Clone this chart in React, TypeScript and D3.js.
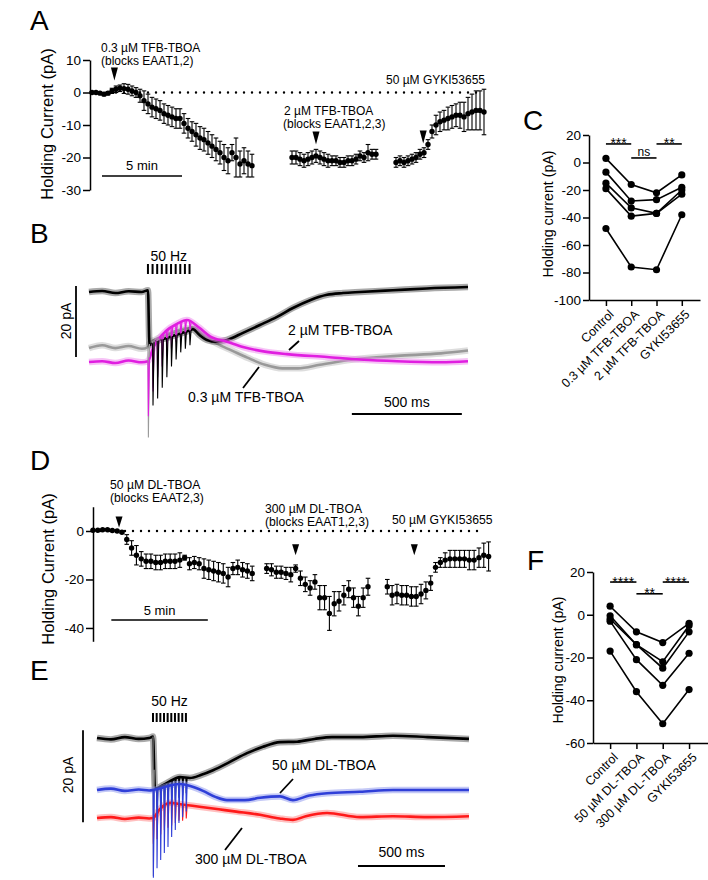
import * as d3 from 'd3';
import React, { useRef, useEffect } from 'react';

const FONT = "'Liberation Sans', Arial, Helvetica, sans-serif";

// ---------- A: holding current, TFB-TBOA (min, pA) ----------
const aTicks = [10, 0, -10, -20, -30];
const aStep = 0.25;
const aSeg1Start = 0;
const aSeg1Mean = [0, 0, -0.2, -0.5, -0.2, 0.5, 1, 1.3, 1.2, 1, 0.5, 0, -1, -2.5, -3.5, -4.5, -5, -5.5, -6.5, -7, -7.5, -8, -8, -9.5, -11, -12, -13, -14, -14.5, -15.5, -16.5, -17.5, -18.5, -20, -21, -18.5, -20, -22, -21, -22, -22.5];
const aSeg1Err = [0.3, 0.3, 0.3, 0.5, 0.5, 0.8, 1, 1, 1.5, 1.5, 1.5, 1.5, 2, 3, 3, 3, 3, 3, 3, 3, 3, 3, 3, 3, 3, 3, 3.5, 3.5, 3.5, 3.5, 3.5, 3.5, 3.5, 4, 4, 2.5, 6, 4, 4, 4, 3.5];
const aSeg2Start = 12.5;
const aSeg2Mean = [-20, -20, -20.5, -21, -20.5, -20, -19.5, -20, -20.5, -21, -21, -21, -21.5, -21.5, -21, -21, -20.5, -19.5, -20, -18.5, -19, -19];
const aSeg2Err = [2, 2, 2, 2, 2, 2, 2, 2, 2, 2, 1.5, 1.5, 1.5, 1.5, 1.5, 1.5, 1.5, 1.5, 1.5, 2.5, 1.5, 1.5];
const aSeg3Start = 19;
const aSeg3Mean = [-21.5, -21, -21.5, -21, -20.5, -20, -19, -18.5, -16, -12, -10, -9, -8.5, -8, -7.5, -7, -7, -7.5, -6.5, -6, -5.5, -5.5, -6];
const aSeg3Err = [1.5, 1.5, 1.5, 1.5, 1.5, 1.5, 1.5, 1.5, 1.5, 2, 3, 3, 3, 3.5, 3.5, 3.5, 4, 4.5, 5, 5.5, 6, 6, 7];
const aArrowT = [1.4, 14, 20.7];
const aArrowV = [7.7, -12, -11.7];

// ---------- B: traces, TFB-TBOA (ms, pA) ----------
const bPulses = [268, 289, 310, 331, 352, 373, 394, 415, 436, 457];
const bBlackT = [0, 60, 120, 180, 240, 268, 275, 300, 350, 400, 450, 473, 500, 536, 580, 627, 700, 777, 855, 927, 1005, 1082, 1155, 1232, 1382, 1536, 1723];
const bBlackV = [0, 0.3, -0.3, 0.2, 0, 0.5, -15, -14, -13, -12, -11, -10.5, -12, -13.5, -14, -13.5, -11.5, -9.3, -7, -4.5, -2.3, -0.8, -0.3, 0, 0.5, 1, 1.4];
const bBlackSpikes = [-41, -32, -30, -27, -24, -21, -19, -17, -16, -15];
const bGrayT = [0, 60, 120, 180, 240, 268, 280, 300, 350, 420, 473, 520, 580, 650, 720, 800, 880, 950, 1050, 1200, 1400, 1600, 1723];
const bGrayV = [-15.8, -15, -15.8, -15.2, -16, -15.5, -14, -13.5, -12, -10.5, -10, -12, -14.5, -16.5, -18.5, -20.5, -21.5, -21.5, -20.5, -19, -18, -17.3, -16.5];
const bGraySpikes = [-41, -27, -24, -21, -18, -16, -14, -13, -12, -11];
const bMagT = [0, 60, 120, 180, 240, 268, 290, 350, 400, 445, 500, 550, 627, 700, 800, 900, 1082, 1232, 1400, 1600, 1723];
const bMagV = [-19.7, -19.5, -20, -19.3, -19.8, -19.5, -16, -11, -9, -7.9, -10, -12.5, -14, -15.5, -16.8, -17.5, -18.3, -19, -19.5, -19.8, -19.5];
const bMagSpikes = [-35, -28, -24, -21, -18, -16, -14, -13, -12, -11];

// ---------- C: paired cells, TFB-TBOA ----------
const cCats = ['Control', '0.3 µM TFB-TBOA', '2 µM TFB-TBOA', 'GYKI53655'];
const cTicks = [20, 0, -20, -40, -60, -80, -100];
const cCell1 = [3, -16, -22, -9];
const cCell2 = [-7, -28, -27, -18];
const cCell3 = [-15, -33, -37, -20];
const cCell4 = [-19, -39, -37, -23];
const cCell5 = [-48, -76, -78, -38];
const cSigFrom = [0, 1, 2];
const cSigTo = [1, 2, 3];
const cSigV = [13.5, 3.3, 13.5];
const cSigText = ['***', 'ns', '**'];

// ---------- D: holding current, DL-TBOA ----------
const dTicks = [0, -20, -40];
const dStep = 0.25;
const dSeg1Start = 0;
const dSeg1Mean = [0.3, 0.3, 0.5, 0.5, 0.2, 0, -0.5, -3.5, -7, -10, -11.5, -12.5, -12.5, -13, -13, -12.5, -12.5, -12.5, -12, -11, -13.5, -13, -13.5, -15.5, -16, -16.5, -17, -17.5, -19, -15.5, -15, -16, -16.5, -17.5];
const dSeg1Err = [0.3, 0.3, 0.3, 0.3, 0.3, 0.3, 0.5, 2, 3, 4, 3, 3, 3, 3, 3, 3, 3, 3, 3, 1, 2.5, 2.5, 2.5, 4, 4, 4, 4, 4, 4, 2.5, 3, 3, 3, 3];
const dSeg2Start = 9;
const dSeg2Mean = [-15.5, -16, -17, -17, -17.5, -18, -15.5, -19.5, -22, -23.5, -21, -27.5, -27.5, -34, -30, -29, -26.5, -24, -27.5, -31, -27.5, -23];
const dSeg2Err = [2, 2.5, 2.5, 2.5, 2.5, 3, 1.5, 3, 3, 3, 3, 5, 5, 7, 5, 4, 4, 3.5, 4, 4, 4, 3.5];
const dSeg3Start = 15.25;
const dSeg3Mean = [-23, -26.5, -26, -26.5, -26.5, -27, -27, -26, -24.5, -21.5, -15, -13, -12, -11.5, -11.5, -11.5, -11.5, -12, -12, -11, -10, -10.5];
const dSeg3Err = [3, 4, 4, 4, 4, 4, 4, 4, 3.5, 3, 2, 2, 3, 3.5, 3.5, 3.5, 3.5, 4, 4, 4, 5, 6];
const dArrowT = [1.35, 10.5, 16.65];
const dArrowV = [6, -5.5, -5.5];

// ---------- E: traces, DL-TBOA ----------
const ePulses = [322, 343, 364, 385, 406, 427, 448, 469, 490, 511];
const eBlackT = [0, 80, 160, 240, 300, 322, 333, 400, 477, 534, 600, 667, 764, 862, 954, 1052, 1150, 1250, 1350, 1511, 1701, 1900, 2138];
const eBlackV = [0, -0.3, 0.2, -0.2, 0, 0.3, -11, -9.8, -8.5, -8.7, -8, -7, -5.2, -3.3, -1.9, -0.9, -0.8, -0.2, 0.2, 0.2, 0.5, 0.2, -0.2];
const eBlackSpikes = [-30, -17, -16, -15, -14.5, -14, -13.5, -13, -12.5, -12];
const eBlueT = [0, 80, 160, 240, 300, 322, 360, 420, 480, 540, 609, 680, 747, 850, 937, 1052, 1126, 1220, 1322, 1511, 1701, 1900, 2138];
const eBlueV = [-11.3, -11, -11.5, -11.2, -11.4, -11.3, -11, -10.3, -10, -10.5, -11.5, -12.8, -13.5, -13.5, -13, -12.7, -13.5, -12.5, -12, -11.7, -11.3, -11.3, -11.3];
const eBlueSpikes = [-30.4, -28.3, -26.5, -25, -23.7, -21.5, -20, -18.5, -17.2, -16];
const eRedT = [0, 80, 160, 240, 300, 322, 360, 420, 500, 600, 700, 800, 937, 1050, 1126, 1200, 1322, 1511, 1701, 1900, 2138];
const eRedV = [-17.4, -17.2, -17.6, -17.3, -17.5, -17.4, -15.5, -14.1, -14.5, -15, -15.5, -16, -16.7, -17.5, -17.8, -17, -16.3, -17.2, -17, -17.2, -17];
const eRedSpikes = [-23, -22, -21, -20, -19.5, -19, -18.5, -18, -18, -17.5];

// ---------- F: paired cells, DL-TBOA ----------
const fCats = ['Control', '50 µM DL-TBOA', '300 µM DL-TBOA', 'GYKI53655'];
const fTicks = [20, 0, -20, -40, -60];
const fCell1 = [4, -8, -13, -4];
const fCell2 = [-0.5, -14, -22, -5];
const fCell3 = [-2, -14, -25, -8];
const fCell4 = [-3, -21, -33, -18];
const fCell5 = [-17, -36, -51, -35];
const fSigFrom = [0, 1, 2];
const fSigTo = [1, 2, 3];
const fSigV = [15.3, 9.8, 15.3];
const fSigText = ['****', '**', '****'];

function App() {
    const ref = useRef(null);

    useEffect(() => {
        draw();
    }, []);

    const draw = () => {
        const svg = d3.select(ref.current);
        svg.selectAll('*').remove();

        const txt = (x, y, s, size, anchor = 'start') =>
            svg.append('text').attr('x', x).attr('y', y).text(s)
                .style('font-family', FONT).style('font-size', size + 'px')
                .attr('text-anchor', anchor).attr('fill', '#000');

        const vtxt = (x, y, s, size) =>
            svg.append('text').attr('transform', 'translate(' + x + ',' + y + ') rotate(-90)')
                .attr('text-anchor', 'middle').text(s)
                .style('font-family', FONT).style('font-size', size + 'px').attr('fill', '#000');

        const yAxis = (y, x, ticks, size) => {
            const a = svg.append('g').attr('transform', 'translate(' + x + ',0)')
                .call(d3.axisLeft(y).tickValues(ticks).tickSize(size).tickPadding(2)
                    .tickSizeOuter(0).tickFormat(d => String(d)));
            a.select('.domain').attr('stroke-width', 1.5).attr('stroke', '#000');
            a.selectAll('.tick line').attr('stroke-width', 1.5).attr('stroke', '#000');
            a.selectAll('text').style('font-family', FONT).style('font-size', '13.5px').attr('fill', '#000');
            return a;
        };

        const line = (x1, y1, x2, y2, w, color = '#000') =>
            svg.append('line').attr('x1', x1).attr('y1', y1).attr('x2', x2).attr('y2', y2)
                .attr('stroke', color).attr('stroke-width', w);

        const arrow = (cx, top, w, h) =>
            svg.append('path').attr('d', 'M' + (cx - w / 2) + ',' + top + 'L' + (cx + w / 2) + ',' + top + 'L' + cx + ',' + (top + h) + 'Z')
                .attr('fill', '#000');

        // mean ± SEM, one point every `step` minutes
        const timecourse = (x, y, start, step, mean, err) => {
            const g = svg.append('g');
            mean.forEach((m, i) => {
                const px = x(start + i * step);
                const e = err[i];
                g.append('line').attr('x1', px).attr('x2', px).attr('y1', y(m + e)).attr('y2', y(m - e))
                    .attr('stroke', '#000').attr('stroke-width', 1.1);
                [m + e, m - e].forEach(v => {
                    g.append('line').attr('x1', px - 2.3).attr('x2', px + 2.3).attr('y1', y(v)).attr('y2', y(v))
                        .attr('stroke', '#000').attr('stroke-width', 1.1);
                });
            });
            g.selectAll('circle').data(mean).enter().append('circle')
                .attr('cx', (d, i) => x(start + i * step)).attr('cy', d => y(d))
                .attr('r', 2.7).attr('fill', '#000');
        };

        const trace = (x, y, times, vals, color, halo) => {
            const gen = d3.line().x((d, i) => x(times[i])).y(d => y(d)).curve(d3.curveMonotoneX);
            svg.append('path').attr('d', gen(vals)).attr('fill', 'none').attr('stroke', halo)
                .attr('stroke-width', 6.5).attr('stroke-linejoin', 'round').attr('opacity', 0.5);
            svg.append('path').attr('d', gen(vals)).attr('fill', 'none').attr('stroke', color)
                .attr('stroke-width', 2.6).attr('stroke-linejoin', 'round');
        };

        // stimulus artefacts drawn down from the trace at each pulse
        const spikes = (x, y, times, vals, pulses, depths, color) => {
            const interp = d3.scaleLinear().domain(times).range(vals);
            pulses.forEach((p, i) => {
                const pts = [[p, interp(p)], [p + 2, depths[i]], [p + 7, interp(p + 7)]];
                svg.append('path').attr('d', d3.line()(pts.map(q => [x(q[0]), y(q[1])])))
                    .attr('fill', 'none').attr('stroke', color).attr('stroke-width', 1.1);
            });
        };

        const stimTicks = (x, pulses, top, h) => {
            pulses.forEach(p => line(x(p), top, x(p), top + h, 2));
        };

        const paired = (x, y, cells, sigFrom, sigTo, sigV, sigText, starSize) => {
            cells.forEach(c => {
                const gen = d3.line().x((d, i) => x(i)).y(d => y(d));
                svg.append('path').attr('d', gen(c)).attr('fill', 'none').attr('stroke', '#000').attr('stroke-width', 1.6);
                c.forEach((v, i) => {
                    svg.append('circle').attr('cx', x(i)).attr('cy', y(v)).attr('r', 3.6).attr('fill', '#000');
                });
            });
            sigText.forEach((s, i) => {
                line(x(sigFrom[i]), y(sigV[i]), x(sigTo[i]), y(sigV[i]), 1.6);
                const isNs = s === 'ns';
                txt((x(sigFrom[i]) + x(sigTo[i])) / 2, y(sigV[i]) + (isNs ? -1.5 : 4.5), s, isNs ? 12 : starSize, 'middle');
            });
        };

        const xCatAxis = (x, y0, cats) => {
            const a = svg.append('g').attr('transform', 'translate(0,' + y0 + ')')
                .call(d3.axisBottom(x).tickValues([0, 1, 2, 3]).tickSize(6).tickSizeOuter(0)
                    .tickFormat(i => cats[i]));
            a.select('.domain').attr('stroke-width', 1.5).attr('stroke', '#000');
            a.selectAll('.tick line').attr('stroke-width', 1.5).attr('stroke', '#000');
            a.selectAll('text').attr('y', 0).attr('dy', '0.35em').attr('x', 0)
                .attr('transform', 'translate(5,12) rotate(-45)').style('text-anchor', 'end')
                .style('font-family', FONT).style('font-size', '12.5px').attr('fill', '#000');
        };

        // ===== Panel A =====
        txt(30, 30, 'A', 28);
        const ax = d3.scaleLinear().domain([0, 24.5]).range([92, 484]);
        const ay = d3.scaleLinear().domain([10, -30]).range([60, 190]);
        svg.append('line').attr('x1', ax(0)).attr('x2', ax(24.5)).attr('y1', ay(0)).attr('y2', ay(0))
            .attr('stroke', '#000').attr('stroke-width', 2.4).attr('stroke-linecap', 'round').attr('stroke-dasharray', '0,8');
        yAxis(ay, 90, aTicks, 7);
        timecourse(ax, ay, aSeg1Start, aStep, aSeg1Mean, aSeg1Err);
        timecourse(ax, ay, aSeg2Start, aStep, aSeg2Mean, aSeg2Err);
        timecourse(ax, ay, aSeg3Start, aStep, aSeg3Mean, aSeg3Err);
        aArrowT.forEach((t, i) => arrow(ax(t), ay(aArrowV[i]), 7, 13));
        vtxt(53, 124, 'Holding Current (pA)', 16.5);
        txt(101, 52, '0.3 µM TFB-TBOA', 12);
        txt(101, 65, '(blocks EAAT1,2)', 12);
        txt(485, 84, '50 µM GYKI53655', 12, 'end');
        txt(284, 114.5, '2 µM TFB-TBOA', 12);
        txt(283, 127.5, '(blocks EAAT1,2,3)', 12);
        line(ax(0.625), 176, ax(5.625), 176, 1.5);
        txt((ax(0.625) + ax(5.625)) / 2, 170, '5 min', 13, 'middle');

        // ===== Panel B =====
        txt(30, 243, 'B', 28);
        const bx = d3.scaleLinear().domain([0, 1723]).range([89, 468]);
        const by = d3.scaleLinear().domain([0, -20]).range([292, 363]);
        trace(bx, by, bGrayT, bGrayV, '#999999', '#bbbbbb');
        trace(bx, by, bBlackT, bBlackV, '#000000', '#555555');
        trace(bx, by, bMagT, bMagV, '#e01ee0', '#ee88ee');
        spikes(bx, by, bGrayT, bGrayV, bPulses, bGraySpikes, '#9a9a9a');
        spikes(bx, by, bMagT, bMagV, bPulses, bMagSpikes, '#e01ee0');
        spikes(bx, by, bBlackT, bBlackV, bPulses.slice(1), bBlackSpikes.slice(1), '#000');
        stimTicks(bx, bPulses, 264, 10);
        txt((bx(bPulses[0]) + bx(bPulses[9])) / 2, 261, '50 Hz', 14, 'middle');
        line(76, by(1.7), 76, by(-18.3), 1.8);
        vtxt(71, 321, '20 pA', 14);
        line(bx(1195), 414, bx(1695), 414, 1.8);
        txt((bx(1195) + bx(1695)) / 2, 407, '500 ms', 14, 'middle');
        txt(288, 335, '2 µM TFB-TBOA', 14);
        line(289, 350, 299, 341, 1.8);
        txt(188, 402, '0.3 µM TFB-TBOA', 14);
        line(243, 388, 259, 367, 1.8);

        // ===== Panel C =====
        txt(523, 130, 'C', 28);
        const cx = d3.scaleLinear().domain([-0.67, 3.72]).range([589, 700]);
        const cy = d3.scaleLinear().domain([20, -100]).range([135, 300]);
        yAxis(cy, 589, cTicks, 6);
        xCatAxis(cx, 300, cCats);
        paired(cx, cy, [cCell1, cCell2, cCell3, cCell4, cCell5], cSigFrom, cSigTo, cSigV, cSigText, 14);
        vtxt(553, 214, 'Holding current  (pA)', 14.2);

        // ===== Panel D =====
        txt(30, 470, 'D', 28);
        const dx = d3.scaleLinear().domain([0, 20.5]).range([93, 488.6]);
        const dy = d3.scaleLinear().domain([10, -45.5]).range([506.75, 641.3]);
        svg.append('line').attr('x1', dx(0)).attr('x2', dx(20)).attr('y1', dy(0)).attr('y2', dy(0))
            .attr('stroke', '#000').attr('stroke-width', 2.4).attr('stroke-linecap', 'round').attr('stroke-dasharray', '0,8');
        yAxis(dy, 93, dTicks, 7);
        timecourse(dx, dy, dSeg1Start, dStep, dSeg1Mean, dSeg1Err);
        timecourse(dx, dy, dSeg2Start, dStep, dSeg2Mean, dSeg2Err);
        timecourse(dx, dy, dSeg3Start, dStep, dSeg3Mean, dSeg3Err);
        dArrowT.forEach((t, i) => arrow(dx(t), dy(dArrowV[i]), 7, 11));
        vtxt(54, 569, 'Holding Current (pA)', 16.5);
        txt(110, 489, '50 µM DL-TBOA', 12.2);
        txt(110, 502, '(blocks EAAT2,3)', 12.2);
        txt(265, 513, '300 µM DL-TBOA', 12.2);
        txt(265, 526, '(blocks EAAT1,2,3)', 12.2);
        txt(392, 524, '50 µM GYKI53655', 12.2);
        line(dx(0.95), 620, dx(5.95), 620, 1.5);
        txt((dx(0.95) + dx(5.95)) / 2, 615, '5 min', 13, 'middle');

        // ===== Panel E =====
        txt(30, 680, 'E', 28);
        const ex = d3.scaleLinear().domain([0, 2138]).range([97, 469]);
        const ey = d3.scaleLinear().domain([0, -20]).range([738, 830]);
        trace(ex, ey, eBlackT, eBlackV, '#000000', '#555555');
        spikes(ex, ey, eBlackT, eBlackV, ePulses.slice(0, 1), eBlackSpikes.slice(0, 1), '#888');
        spikes(ex, ey, eBlackT, eBlackV, ePulses.slice(1), eBlackSpikes.slice(1), '#000');
        trace(ex, ey, eBlueT, eBlueV, '#2f3fd8', '#8a93ee');
        trace(ex, ey, eRedT, eRedV, '#ff1a1a', '#ff8080');
        spikes(ex, ey, eRedT, eRedV, ePulses, eRedSpikes, '#ff1a1a');
        spikes(ex, ey, eBlueT, eBlueV, ePulses, eBlueSpikes, '#2f3fd8');
        stimTicks(ex, ePulses, 713, 9);
        txt((ex(ePulses[0]) + ex(ePulses[9])) / 2, 706, '50 Hz', 14, 'middle');
        line(83, ey(1.7), 83, ey(-18.3), 1.8);
        vtxt(73, 775, '20 pA', 14);
        line(ex(1500), 866, ex(2000), 866, 1.8);
        txt((ex(1500) + ex(2000)) / 2, 857, '500 ms', 14, 'middle');
        txt(272, 770, '50 µM DL-TBOA', 14);
        line(280, 793, 293, 779, 1.8);
        txt(195, 864, '300 µM DL-TBOA', 14);
        line(225, 850, 242, 828, 1.8);

        // ===== Panel F =====
        txt(527, 570, 'F', 28);
        const fx = d3.scaleLinear().domain([-0.65, 3.72]).range([593, 708]);
        const fy = d3.scaleLinear().domain([20, -60]).range([572, 743]);
        yAxis(fy, 593, fTicks, 6);
        xCatAxis(fx, 743, fCats);
        paired(fx, fy, [fCell1, fCell2, fCell3, fCell4, fCell5], fSigFrom, fSigTo, fSigV, fSigText, 14);
        vtxt(563, 660, 'Holding current  (pA)', 14.2);
    };

    return (
        <div className="chart">
            <svg ref={ref} width={708} height={880}
                style={{ position: 'absolute', left: 0, top: 0, background: '#fff' }}>
            </svg>
        </div>
    );
}

export default App;
